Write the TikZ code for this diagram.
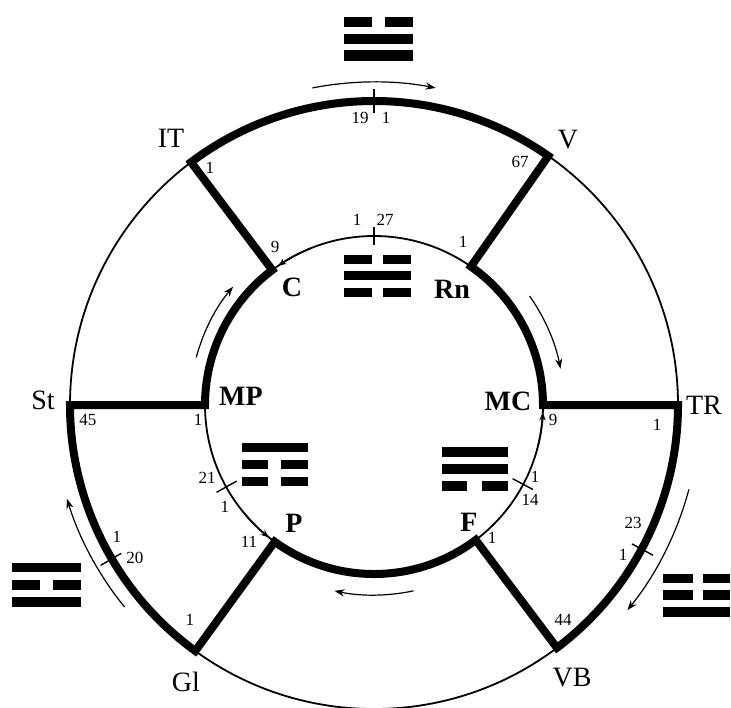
\documentclass[tikz,border=0pt]{standalone}
\usepackage{fontspec}
\setmainfont{Liberation Serif}
\usetikzlibrary{arrows.meta}
\begin{document}
\begin{tikzpicture}[x=0.5pt,y=0.5pt,
  heavy/.style={line width=4pt,line join=miter},
  thinline/.style={line width=0.9pt},
  flow/.style={line width=0.6pt,-{Stealth[length=5pt,width=3.6pt]}},
  junctip/.style={line width=0.8pt,-{Stealth[length=4pt,width=3.2pt]}},
  ticks/.style={line width=0.7pt},
  bar/.style={fill=black},
  big/.style={inner sep=0pt,font=\fontsize{14}{16}\selectfont},
  bigb/.style={inner sep=0pt,font=\fontsize{14}{16}\selectfont\bfseries},
  num/.style={inner sep=0pt,font=\fontsize{8.5}{9}\selectfont}]
\useasboundingbox (-374,-302) rectangle (357,405);
\fill[white] (-374,-302) rectangle (357,405);
\coordinate (O) at (0,0);
% junctions
\coordinate (ITj) at (127:304);
\coordinate (Vj)  at (55:304);
\coordinate (Stj) at (180:304);
\coordinate (TRj) at (0:304);
\coordinate (Glj) at (234:304);
\coordinate (VBj) at (307:304);
\coordinate (Cj)  at (127:169);
\coordinate (Rnj) at (55:169);
\coordinate (MPj) at (180:169);
\coordinate (MCj) at (0:169);
\coordinate (Pj)  at (234:169);
\coordinate (Fj)  at (307:169);
% thin circles
\draw[thinline] (O) circle[radius=304];
\draw[thinline] (O) circle[radius=169];
% heavy loop
\draw[heavy] (Cj) -- (ITj) arc[start angle=127,end angle=55,radius=304]
  -- (Rnj) arc[start angle=55,end angle=0,radius=169]
  -- (TRj) arc[start angle=0,end angle=-53,radius=304]
  -- (Fj) arc[start angle=-53,end angle=-126,radius=169]
  -- (Glj) arc[start angle=234,end angle=180,radius=304]
  -- (MPj) arc[start angle=180,end angle=127,radius=169] -- cycle;
% small tips at junctions
\draw[junctip] (112:169) arc[start angle=112,end angle=124.5,radius=169];
\draw[junctip] (220:169) arc[start angle=220,end angle=231.5,radius=169];
\draw[junctip] (-14:169) arc[start angle=-14,end angle=-2.5,radius=169];
% flow arrows
\draw[flow] (101:323) arc[start angle=101,end angle=79,radius=323];
\draw[flow] (-15:326) arc[start angle=-15,end angle=-39,radius=326];
\draw[flow] (219:321) arc[start angle=219,end angle=197,radius=321];
\draw[flow] (165:184) arc[start angle=165,end angle=140,radius=184];
\draw[flow] (35:190) arc[start angle=35,end angle=11,radius=190];
\draw[flow] (282:190) arc[start angle=282,end angle=258,radius=190];
% ticks
\draw[ticks] (90:292) -- (90:316);
\draw[ticks] (90:160) -- (90:178);
\draw[ticks] (209:157) -- (209:180);
\draw[ticks] (-28:157) -- (-28:180);
\draw[ticks] (210.4:293) -- (210.4:317);
\draw[ticks] (-28.3:293) -- (-28.3:317);
% big labels
\node[big]  (IT) at (-203,267) {IT};
\node[big]  (V)  at (194,265) {V};
\node[big]  (St) at (-331,5) {St};
\node[big]  (TR) at (330,0) {TR};
\node[big]  (Gl) at (-188,-277) {Gl};
\node[big]  (VB) at (198,-273) {VB};
\node[bigb] (C)  at (-82,118) {C};
\node[bigb] (Rn) at (78,116) {Rn};
\node[bigb] (MP) at (-133,9) {MP};
\node[bigb] (MC) at (134,4) {MC};
\node[bigb] (P)  at (-80,-118) {P};
\node[bigb] (F)  at (95,-117) {F};
% numbers
\node[num] (n1)  at (-14,287) {19};
\node[num] (n2)  at (12,287) {1};
\node[num] (n3)  at (-17,185) {1};
\node[num] (n4)  at (11,185) {27};
\node[num] (n5)  at (-164,237) {1};
\node[num] (n6)  at (-99,158) {9};
\node[num] (n7)  at (146,243) {67};
\node[num] (n8)  at (89,163) {1};
\node[num] (n9)  at (-286,-15) {45};
\node[num] (n10) at (-176,-15) {1};
\node[num] (n11) at (-167,-73) {21};
\node[num] (n12) at (-149,-102) {1};
\node[num] (n13) at (-125,-137) {11};
\node[num] (n14) at (179,-15) {9};
\node[num] (n15) at (283,-20) {1};
\node[num] (n16) at (161,-72) {1};
\node[num] (n17) at (156,-95) {14};
\node[num] (n18) at (118,-133) {1};
\node[num] (n19) at (259,-118) {23};
\node[num] (n20) at (249,-150) {1};
\node[num] (n21) at (189,-215) {44};
\node[num] (n22) at (-184,-215) {1};
\node[num] (n23) at (-257,-132) {1};
\node[num] (n24) at (-239,-153) {20};
% trigrams (screen coordinates)
\begin{scope}[shift={(-374,405)},yscale=-1]
  % top outside
  \fill[bar] (344,17) rectangle (372,27);
  \fill[bar] (385,17) rectangle (413,27);
  \fill[bar] (344,34) rectangle (413,44);
  \fill[bar] (344,50) rectangle (413,61);
  % inner top
  \fill[bar] (344,255) rectangle (372,264);
  \fill[bar] (383,255) rectangle (411,264);
  \fill[bar] (344,271) rectangle (411,280);
  \fill[bar] (344,288) rectangle (372,297);
  \fill[bar] (383,288) rectangle (411,297);
  % inner left
  \fill[bar] (242,443) rectangle (308,452);
  \fill[bar] (242,460) rectangle (268,469);
  \fill[bar] (281,460) rectangle (308,469);
  \fill[bar] (242,477) rectangle (268,486);
  \fill[bar] (281,477) rectangle (308,486);
  % inner right
  \fill[bar] (442,447) rectangle (508,457);
  \fill[bar] (442,464) rectangle (508,474);
  \fill[bar] (442,481) rectangle (467,491);
  \fill[bar] (482,481) rectangle (508,491);
  % left outside
  \fill[bar] (12,563) rectangle (81,572);
  \fill[bar] (12,580) rectangle (40,590);
  \fill[bar] (53,580) rectangle (81,590);
  \fill[bar] (12,597) rectangle (81,607);
  % right outside
  \fill[bar] (663,574) rectangle (693,583);
  \fill[bar] (703,574) rectangle (730,583);
  \fill[bar] (663,590) rectangle (693,600);
  \fill[bar] (703,590) rectangle (730,600);
  \fill[bar] (663,607) rectangle (730,617);
\end{scope}
\end{tikzpicture}
\end{document}
